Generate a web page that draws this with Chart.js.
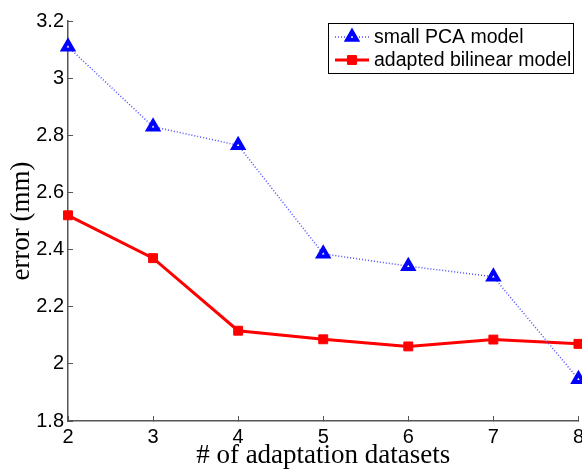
<!DOCTYPE html>
<html>
<head>
<meta charset="utf-8">
<script src="https://cdn.jsdelivr.net/npm/chart.js@4.4.1/dist/chart.umd.min.js"></script>
<style>
  html, body { margin: 0; padding: 0; background: #fff; overflow: hidden; }
  #wrap { width: 582px; height: 469px; overflow: hidden; position: relative; }
</style>
</head>
<body>
<div id="wrap"><canvas id="c" width="593" height="469"></canvas></div>
<script>
const categories = [2, 3, 4, 5, 6, 7, 8];
const smallPCA = [3.11, 2.83, 2.765, 2.385, 2.342, 2.305, 1.946];
const adaptedBilinear = [2.52, 2.37, 2.116, 2.086, 2.061, 2.085, 2.07];
const seriesNames = ['small PCA model', 'adapted bilinear model'];
const xTickLabels = ['2', '3', '4', '5', '6', '7', '8'];
const yTickValues = [1.8, 2.0, 2.2, 2.4, 2.6, 2.8, 3.0, 3.2];
const yTickLabels = ['1.8', '2', '2.2', '2.4', '2.6', '2.8', '3', '3.2'];
const xTitle = '# of adaptation datasets';
const yTitle = 'error (mm)';

const SANS = "'Liberation Sans', Arial, Helvetica, sans-serif";
const SERIF = "'Liberation Serif', 'Times New Roman', serif";
const AXIS = '#555';

const legendPlugin = {
  id: 'matlabLegend',
  afterDraw(chart) {
    const ctx = chart.ctx;
    const bx = 328.5, by = 23.5, bw = 245, bh = 50;
    ctx.save();
    ctx.fillStyle = '#fff';
    ctx.fillRect(bx, by, bw, bh);
    ctx.strokeStyle = '#000';
    ctx.lineWidth = 1;
    ctx.strokeRect(bx, by, bw, bh);
    const rows = [37, 60];
    chart.data.datasets.forEach((ds, i) => {
      const y = rows[i];
      ctx.save();
      ctx.strokeStyle = ds.borderColor;
      ctx.lineWidth = ds.borderWidth;
      ctx.setLineDash(ds.borderDash || []);
      ctx.beginPath();
      ctx.moveTo(335, y);
      ctx.lineTo(369, y);
      ctx.stroke();
      ctx.restore();
      ctx.save();
      ctx.fillStyle = ds.pointBackgroundColor;
      ctx.strokeStyle = ds.pointBorderColor;
      ctx.lineWidth = ds.pointBorderWidth;
      Chart.helpers.drawPoint(ctx, {pointStyle: ds.pointStyle, radius: ds.pointRadius, borderWidth: ds.pointBorderWidth, rotation: 0}, 352, y);
      ctx.restore();
      ctx.fillStyle = '#000';
      ctx.font = "19.5px " + SANS;
      ctx.textBaseline = 'middle';
      ctx.textAlign = 'left';
      ctx.fillText(ds.label, 374, y + 1);
    });
    ctx.restore();
  }
};

new Chart(document.getElementById('c'), {
  type: 'line',
  data: {
    datasets: [
      {
        label: seriesNames[0],
        data: categories.map((x, i) => ({x: x, y: smallPCA[i]})),
        borderColor: '#4d4dff',
        borderWidth: 1.5,
        borderDash: [1, 2],
        pointStyle: 'triangle',
        pointRadius: 5.5,
        pointBorderWidth: 4,
        pointBorderColor: '#0000ff',
        pointBackgroundColor: '#ffffff',
        clip: false,
        tension: 0
      },
      {
        label: seriesNames[1],
        data: categories.map((x, i) => ({x: x, y: adaptedBilinear[i]})),
        borderColor: '#ff0000',
        borderWidth: 3,
        pointStyle: 'rect',
        pointRadius: 6.3,
        pointBorderWidth: 1,
        pointBorderColor: '#ff0000',
        pointBackgroundColor: '#ff0000',
        clip: false,
        tension: 0
      }
    ]
  },
  options: {
    responsive: false,
    animation: false,
    events: [],
    layout: { padding: { left: 0, top: 18, right: 0, bottom: 0 } },
    plugins: { legend: { display: false }, tooltip: { enabled: false } },
    scales: {
      x: {
        type: 'linear',
        min: 2, max: 8,
        afterBuildTicks(scale) { scale.ticks = categories.map(v => ({value: v})); },
        afterFit(scale) { scale.height = 48; },
        ticks: {
          autoSkip: false,
          maxRotation: 0,
          padding: 9,
          color: '#000',
          font: { family: SANS, size: 20 },
          callback: (v) => xTickLabels[categories.indexOf(v)]
        },
        grid: { drawOnChartArea: false, tickLength: -5, color: AXIS, lineWidth: 1 },
        border: { color: AXIS, width: 1.5 },
        title: {
          display: true, text: xTitle, color: '#000',
          font: { family: SERIF, size: 27, lineHeight: 1 },
          padding: { top: 0, bottom: 0 }
        }
      },
      y: {
        type: 'linear',
        min: 1.8, max: 3.2,
        afterBuildTicks(scale) { scale.ticks = yTickValues.map(v => ({value: v})); },
        afterFit(scale) { scale.width = 68; },
        ticks: {
          autoSkip: false,
          padding: 9,
          color: '#000',
          font: { family: SANS, size: 20 },
          callback: (v) => {
            const i = yTickValues.findIndex(t => Math.abs(t - v) < 1e-9);
            return i >= 0 ? yTickLabels[i] : '';
          }
        },
        grid: { drawOnChartArea: false, tickLength: -5, color: AXIS, lineWidth: 1 },
        border: { color: AXIS, width: 1.5 },
        title: {
          display: true, text: yTitle, color: '#000',
          font: { family: SERIF, size: 27, lineHeight: 1 },
          padding: { top: 8.5, bottom: 0 }
        }
      }
    }
  },
  plugins: [legendPlugin]
});
</script>
</body>
</html>
